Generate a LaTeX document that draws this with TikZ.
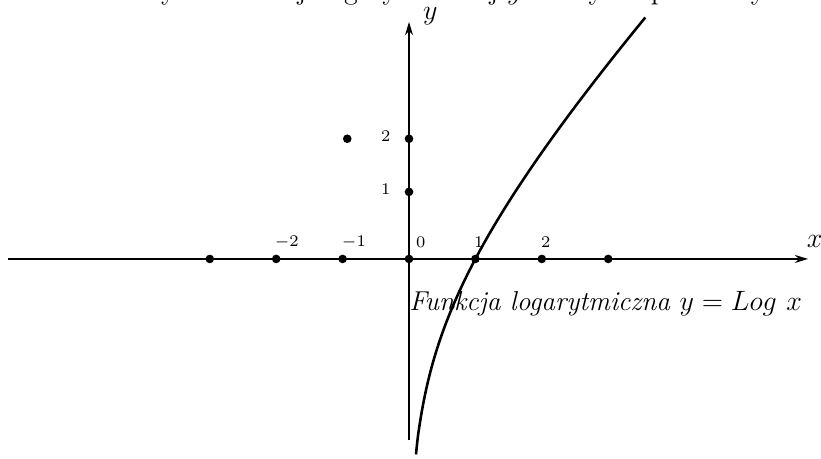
\documentclass[tikz,border=0pt]{standalone}
\usepackage{amsmath}
\usepackage{tikz}
\usetikzlibrary{arrows.meta, positioning, calc}

\begin{document}
\begin{tikzpicture}[
  axis/.style={-{Stealth[length=2mm, width=1.2mm]}, line width=0.7pt},
  curve/.style={line width=1.1pt},
  dot/.style={circle, fill, inner sep=0pt, minimum size=1.3mm},
  tick_label/.style={font=\scriptsize, anchor=center},
  axis_label/.style={font=\large}
]
  \useasboundingbox (-6.16,-3.01) rectangle (6.205,3.90);

  % Title (cut off at the top)
  \node[font=\large, anchor=base] (title) at (0.8, 3.90) {Wykres funkcji logarytmicznej $y$ zależy od podstawy $a$};

  % Axes
  \coordinate (xstart) at (-6.04, 0);
  \coordinate (xend) at (6.01, 0);
  \coordinate (ystart) at (0, -2.73);
  \coordinate (yend) at (0, 3.57);
  \draw[axis] (xstart) -- (xend);
  \draw[axis] (ystart) -- (yend);
  \node[axis_label] (xlab) at (6.11, 0.27) {$x$};
  \node[axis_label] (ylab) at (0.32, 3.66) {$y$};

  % Points on the x axis
  \foreach \i in {-3,...,3} {
    \node[dot] (px\i) at (\i, 0) {};
  }
  \node[tick_label] (lm2) at (-1.84, 0.256) {$-2$};
  \node[tick_label] (lm1) at (-0.83, 0.256) {$-1$};
  \node[tick_label] (l0) at (0.176, 0.256) {$0$};
  \node[tick_label] (l1) at (1.05, 0.256) {$1$};
  \node[tick_label] (l2) at (2.06, 0.256) {$2$};

  % Points on the y axis
  \node[dot] (py1) at (0, 1.01) {};
  \node[dot] (py2) at (0, 1.81) {};
  \node[tick_label] (ly1) at (-0.35, 1.05) {$1$};
  \node[tick_label] (ly2) at (-0.35, 1.85) {$2$};
  \node[dot] (pa) at (-0.93, 1.81) {};

  % Graph
  \draw[curve] plot[domain=0.105:3.56, samples=120, smooth] (\x, {0.924*ln(\x)+0.963*(\x-1)});
  \node[font=\fontsize{11.7}{14}\selectfont\itshape, anchor=base west] (fname) at (-0.12, -0.78) {Funkcja logarytmiczna $y = Log\ x$};

\end{tikzpicture}
\end{document}
